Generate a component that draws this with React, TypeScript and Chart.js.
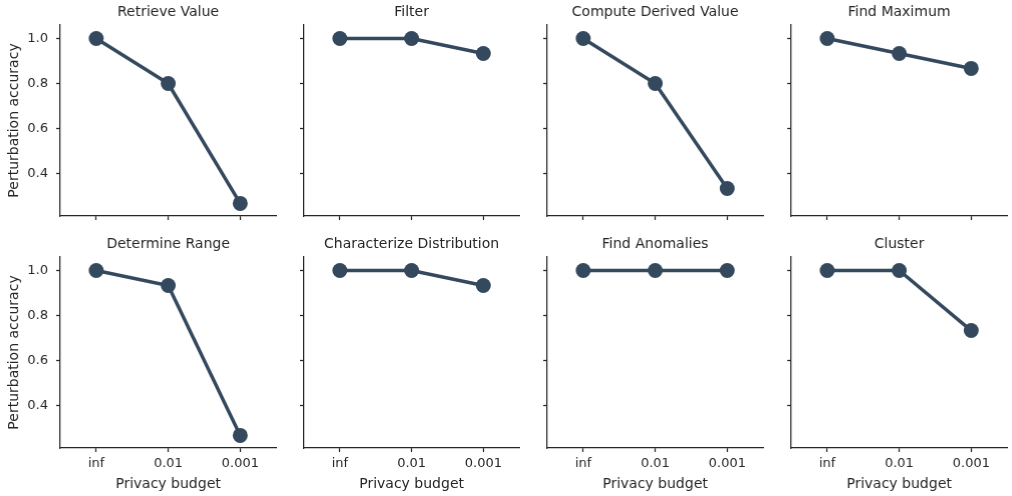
import React, { useEffect, useRef } from "react";
import { Chart, registerables } from "chart.js";

Chart.register(...registerables);

const PANEL_TITLES = [
  "Retrieve Value",
  "Filter",
  "Compute Derived Value",
  "Find Maximum",
  "Determine Range",
  "Characterize Distribution",
  "Find Anomalies",
  "Cluster",
];
const BUDGETS = ["inf", "0.01", "0.001"];

const RETRIEVE_VALUE = [1.0, 0.8, 0.267];
const FILTER = [1.0, 1.0, 0.933];
const COMPUTE_DERIVED_VALUE = [1.0, 0.8, 0.333];
const FIND_MAXIMUM = [1.0, 0.933, 0.867];
const DETERMINE_RANGE = [1.0, 0.933, 0.267];
const CHARACTERIZE_DISTRIBUTION = [1.0, 1.0, 0.933];
const FIND_ANOMALIES = [1.0, 1.0, 1.0];
const CLUSTER = [1.0, 1.0, 0.733];

const SERIES = [
  RETRIEVE_VALUE,
  FILTER,
  COMPUTE_DERIVED_VALUE,
  FIND_MAXIMUM,
  DETERMINE_RANGE,
  CHARACTERIZE_DISTRIBUTION,
  FIND_ANOMALIES,
  CLUSTER,
];

const Y_TICKS = [0.4, 0.6, 0.8, 1.0];
const Y_MIN = 0.211;
const Y_MAX = 1.06;

const X_LABEL = "Privacy budget";
const Y_LABEL = "Perturbation accuracy";

const COLOR = "#34495e";
const TEXT = "#262626";
const AXIS = "#262626";
const FONT = "'DejaVu Sans', sans-serif";

const AREA_LEFT0 = 60;
const COL_STEP = 243.7;
const AREA_W = 220.7;
const ROW_TOP = [0, 232];
const AREA_H = 191;
const TITLE_H = 25;

function Panel({ idx }: { idx: number }) {
  const ref = useRef<HTMLCanvasElement | null>(null);
  const r = Math.floor(idx / 4);
  const c = idx % 4;
  const boxLeft = AREA_LEFT0 + c * COL_STEP - 60;
  const boxW = 60 + AREA_W + 2;
  const boxH = r === 0 ? TITLE_H + AREA_H + 8 : 496 - ROW_TOP[1];

  useEffect(() => {
    if (!ref.current) return;
    const chart = new Chart(ref.current, {
      type: "line",
      data: {
        labels: BUDGETS,
        datasets: [
          {
            data: SERIES[idx],
            borderColor: COLOR,
            backgroundColor: COLOR,
            pointBackgroundColor: COLOR,
            pointBorderColor: COLOR,
            pointRadius: 7.5,
            pointBorderWidth: 0,
            borderWidth: 3.5,
            fill: false,
            tension: 0,
          },
        ],
      },
      options: {
        animation: false,
        responsive: true,
        maintainAspectRatio: false,
        layout: { padding: { left: 0, right: 2, top: 0, bottom: 0 } },
        plugins: {
          legend: { display: false },
          tooltip: { enabled: false },
          title: {
            display: true,
            fullSize: false,
            text: PANEL_TITLES[idx],
            color: TEXT,
            font: { family: FONT, size: 14, weight: "normal" },
            padding: { top: 4.2, bottom: 4.0 },
          },
        },
        scales: {
          x: {
            type: "category",
            offset: true,
            grid: {
              display: true,
              drawOnChartArea: false,
              drawTicks: true,
              tickLength: 4,
              tickColor: AXIS,
              tickWidth: 1.25,
              offset: false,
            },
            border: { display: true, color: AXIS, width: 1.25 },
            ticks: {
              display: r === 1,
              color: TEXT,
              font: { family: FONT, size: 13 },
              padding: 4,
              maxRotation: 0,
              autoSkip: false,
            },
            title: {
              display: r === 1,
              text: X_LABEL,
              color: TEXT,
              font: { family: FONT, size: 14 },
              padding: { top: 0, bottom: 3 },
            },
            afterFit: (s: any) => {
              s.height = r === 0 ? 8 : 48;
              s.paddingLeft = 0;
              s.paddingRight = 0;
            },
          },
          y: {
            min: Y_MIN,
            max: Y_MAX,
            afterBuildTicks: (s: any) => {
              s.ticks = Y_TICKS.map((v) => ({ value: v }));
            },
            grid: {
              display: true,
              drawOnChartArea: false,
              drawTicks: true,
              tickLength: 4,
              tickColor: AXIS,
              tickWidth: 1.25,
            },
            border: { display: true, color: AXIS, width: 1.25 },
            ticks: {
              display: c === 0,
              color: TEXT,
              font: { family: FONT, size: 13 },
              padding: 8,
              callback: (v: any) => Number(v).toFixed(1),
            },
            title: {
              display: c === 0,
              text: Y_LABEL,
              color: TEXT,
              font: { family: FONT, size: 14 },
              padding: { top: 5.6, bottom: 0 },
            },
            afterFit: (s: any) => {
              s.width = 60;
              s.paddingTop = 0;
              s.paddingBottom = 0;
            },
          },
        },
      },
    } as any);
    return () => chart.destroy();
  }, [idx]);

  return (
    <div
      style={{
        position: "absolute",
        left: boxLeft,
        top: ROW_TOP[r],
        width: boxW,
        height: boxH,
      }}
    >
      <canvas ref={ref} />
    </div>
  );
}

export default function App() {
  return (
    <div
      style={{
        position: "fixed",
        left: 0,
        top: 0,
        width: 1012,
        height: 496,
        overflow: "hidden",
        background: "#ffffff",
      }}
    >
      {PANEL_TITLES.map((_, i) => (
        <Panel key={i} idx={i} />
      ))}
    </div>
  );
}
